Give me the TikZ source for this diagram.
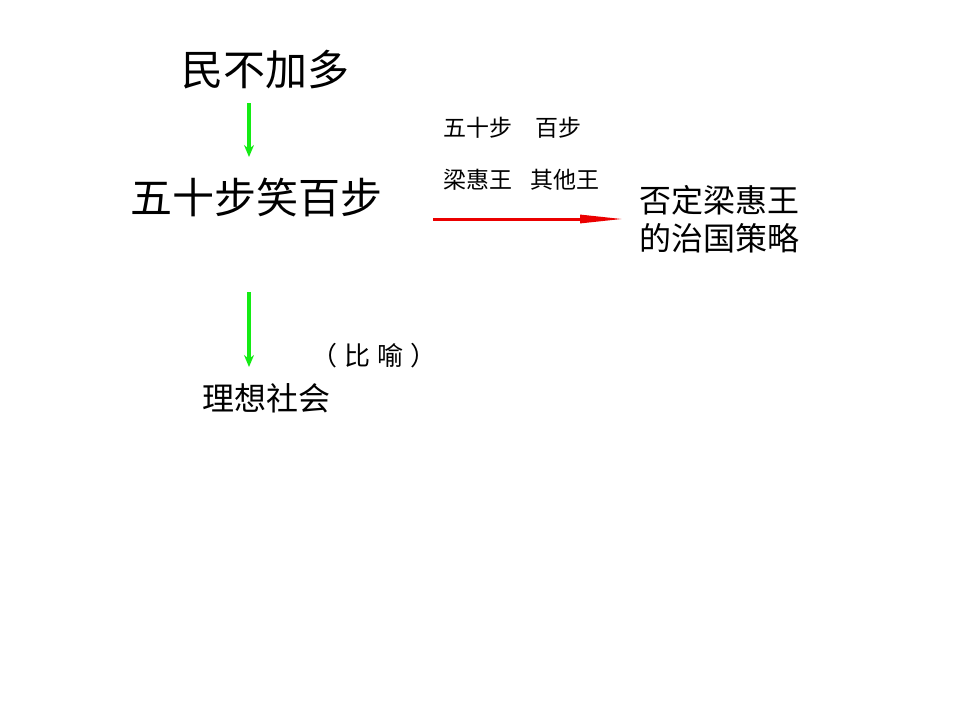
\documentclass[tikz,border=0pt]{standalone}
\usepackage{fontspec}
\setmainfont{Noto Sans CJK SC}
\usetikzlibrary{arrows.meta}
\tikzset{
  big/.style={font=\fontsize{42}{48}\selectfont},
  mid/.style={font=\fontsize{32}{38}\selectfont},
  small/.style={font=\fontsize{23}{28}\selectfont},
  greenarrow/.style={draw={rgb,255:red,20;green,235;blue,20},line width=3.5pt,-{Stealth[length=12pt,width=10pt]}},
  redarrow/.style={draw={rgb,255:red,235;green,0;blue,0},line width=3pt,-{Triangle[length=44pt,width=8pt]}}
}
\begin{document}
\begin{tikzpicture}[x=1pt,y=-1pt]
\useasboundingbox (0,0) rectangle (960,720);
\node[big] (min) at (265,70) {民不加多};
\node[big] (xiao) at (256,197) {五十步笑百步};
\node[mid] (lixiang) at (266,398) {理想社会};
\node[font=\fontsize{26}{30}\selectfont] (biyu) at (374,356) {（\hspace{0.25em}比\hspace{0.3em}喻\hspace{0.25em}）};
\node[small,anchor=west] (bushu) at (440,128) {五十步\hspace{1em}百步};
\node[small,anchor=west] (wang) at (440,180) {梁惠王\hspace{0.8em}其他王};
\node[mid,anchor=west,align=left] (fouding) at (636,219) {否定梁惠王\\的治国策略};
\coordinate (a1) at (249,103);
\coordinate (b1) at (249,157);
\coordinate (a2) at (249,292);
\coordinate (b2) at (249,367);
\coordinate (r1) at (433,219);
\coordinate (r2) at (624,219);
\draw[greenarrow] (a1) -- (b1);
\draw[greenarrow] (a2) -- (b2);
\draw[redarrow] (r1) -- (r2);
\end{tikzpicture}
\end{document}
